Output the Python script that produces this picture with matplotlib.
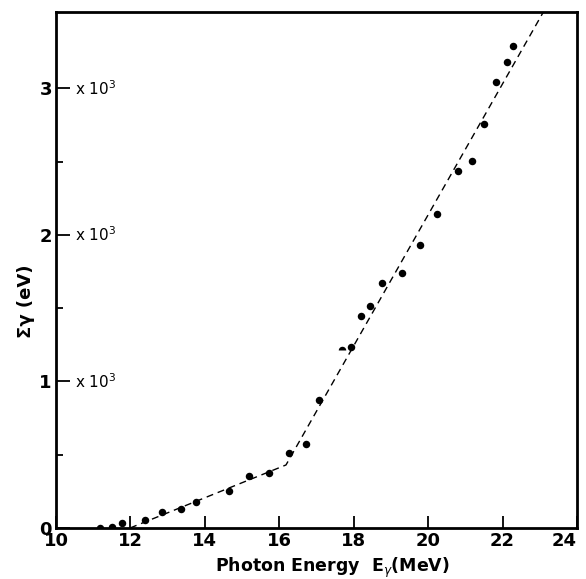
import numpy as np
import matplotlib.pyplot as plt
from matplotlib.markers import MarkerStyle

# photon energy (MeV) and summed width (eV)
energy = [11.18, 11.50, 11.78, 12.39, 12.84, 13.35, 13.76, 14.64, 15.19, 15.73,
          16.27, 16.72, 17.07, 17.94, 18.20, 18.45, 18.76, 19.31, 19.77, 20.24,
          20.81, 21.18, 21.50, 21.83, 22.13, 22.29]
sum_gamma = [0, 9, 32, 55, 111, 128, 177, 255, 355, 378,
             510, 571, 876, 1238, 1447, 1515, 1672, 1743, 1932, 2139,
             2437, 2507, 2758, 3044, 3181, 3288]
# half printed dot
half_energy = [17.68]
half_gamma = [1215]

# dashed fit: two straight segments
fit_energy = [11.99, 16.18, 23.10]
fit_gamma = [0, 430, 3522]

xticks = [10, 12, 14, 16, 18, 20, 22, 24]
yticks = [0, 1000, 2000, 3000]
ylabels = ['0', '1', '2', '3']

fig = plt.figure(figsize=(5.86, 5.79), dpi=100)
ax = fig.add_axes([0.0956, 0.0881, 0.889, 0.891])

ax.plot(fit_energy, fit_gamma, color='black', lw=1.0, ls=(0, (5, 3.5)))
ax.plot(energy, sum_gamma, 'o', color='black', ms=5.4, mew=0)
ax.plot(half_energy, half_gamma, ls='none', color='black', ms=5.4, mew=0,
        marker=MarkerStyle('o', fillstyle='top'))

ax.set_xlim(10, 24)
ax.set_ylim(0, 3520)
ax.set_xticks(xticks)
ax.set_yticks(yticks)
ax.set_yticklabels(ylabels)
ax.set_yticks([500, 1500, 2500], minor=True)

for s in ax.spines.values():
    s.set_linewidth(2.0)

ax.tick_params(axis='x', direction='in', length=9, width=1.3, pad=3,
               labelsize=13)
ax.tick_params(axis='y', which='major', direction='in', length=10, width=1.3,
               pad=3, labelsize=13)
ax.tick_params(axis='y', which='minor', direction='in', length=5, width=1.3)
for lab in ax.get_xticklabels() + ax.get_yticklabels():
    lab.set_fontweight('bold')
ax.get_xticklabels()[-1].set_horizontalalignment('right')

# multiplier printed beside each major y tick
for v in yticks[1:]:
    ax.text(10.5, v, r'x 10$^3$', fontsize=11, va='center', ha='left')

ax.set_xlabel(r'Photon Energy  E$_\gamma$(MeV)', fontsize=12.5, fontweight='bold')
ax.xaxis.set_label_coords(0.53, -0.053)
ax.set_ylabel('Σγ (eV)', fontsize=13, fontweight='bold')
ax.yaxis.set_label_coords(-0.04, 0.44)

fig.savefig('out.png', dpi=100)
